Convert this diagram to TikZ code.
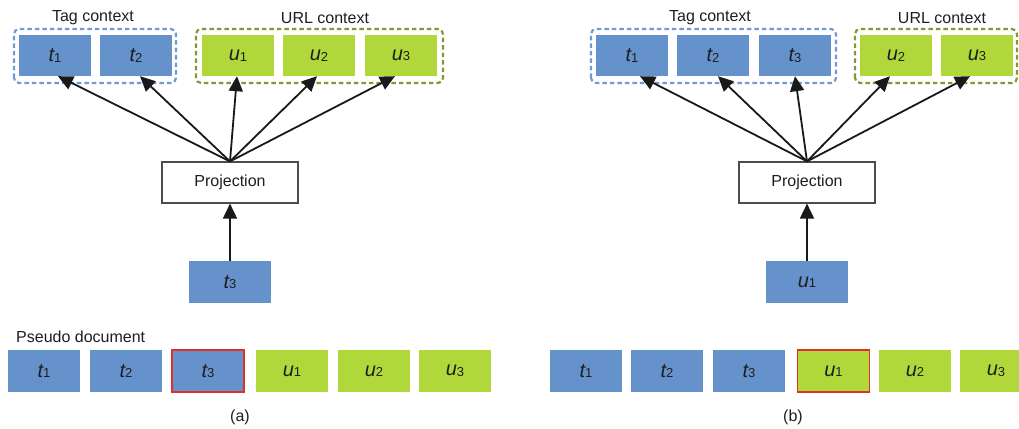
\documentclass[tikz,border=0pt]{standalone}
\usepackage{fontspec}
\setmainfont{Liberation Sans}
\usetikzlibrary{arrows.meta}
\definecolor{tblue}{RGB}{102,146,204}
\definecolor{ugreen}{RGB}{176,216,58}
\definecolor{bluedash}{RGB}{110,155,214}
\definecolor{greendash}{RGB}{128,153,51}
\definecolor{redb}{RGB}{222,50,40}
\definecolor{txt}{RGB}{30,30,30}
\newcommand{\vl}[2]{{\fontsize{20}{24}\selectfont\itshape #1}\raisebox{-0.5pt}{\fontsize{13}{15}\selectfont #2}}
\tikzset{
  box/.style={minimum width=72, minimum height=41, inner sep=0pt, text=txt},
  tb/.style={box, fill=tblue},
  ub/.style={box, fill=ugreen},
  hl/.style={draw=redb, line width=1.8pt},
  grp/.style={dash pattern=on 4.5pt off 3pt, line width=2.2pt, rounded corners=5pt},
  lab/.style={font=\fontsize{16}{19}\selectfont, text=txt, inner sep=0pt},
  proj/.style={draw=black!70, line width=1.2pt, minimum width=136, minimum height=41, inner sep=0pt, font=\fontsize{16}{19}\selectfont, text=txt},
  arr/.style={-{Triangle[length=15pt,width=14pt]}, line width=1.8pt, black!90}
}
\begin{document}
\begin{tikzpicture}[x=1pt,y=1pt]
\useasboundingbox (0,0) rectangle (1019,428);
\clip (0,0) rectangle (1019,428);
% ---------- (a) ----------
\node[tb] (at1) at (55,372.5) {\vl{t}{1}};
\node[tb] (at2) at (136,372.5) {\vl{t}{2}};
\node[ub] (au1) at (238,372.5) {\vl{u}{1}};
\node[ub] (au2) at (319,372.5) {\vl{u}{2}};
\node[ub] (au3) at (401,372.5) {\vl{u}{3}};
\draw[grp, bluedash] (14,345) rectangle (176,399);
\draw[grp, greendash] (196,345) rectangle (443,399);
\node[lab] (atag) at (93,410) {Tag context};
\node[lab] (aurl) at (325,410) {URL context};
\node[proj] (ap) at (230,245.5) {Projection};
\node[tb, minimum width=82, minimum height=42] (ain) at (230,146) {\vl{t}{3}};
\draw[arr] (ain.north) -- (ap.south);
\draw[arr] (ap.north) -- ([xshift=3pt]at1.south);
\draw[arr] (ap.north) -- ([xshift=4pt]at2.south);
\draw[arr] (ap.north) -- ([xshift=-1pt]au1.south);
\draw[arr] (ap.north) -- ([xshift=-2pt]au2.south);
\draw[arr] (ap.north) -- ([xshift=-6pt]au3.south);
\node[lab, anchor=west] (apd) at (16,91) {Pseudo document};
\node[tb, minimum height=42] (ad1) at (44,57) {\vl{t}{1}};
\node[tb, minimum height=42] (ad2) at (126,57) {\vl{t}{2}};
\node[tb, hl, minimum height=42] (ad3) at (208,57) {\vl{t}{3}};
\node[ub, minimum height=42] (ad4) at (292,57) {\vl{u}{1}};
\node[ub, minimum height=42] (ad5) at (374,57) {\vl{u}{2}};
\node[ub, minimum height=42] (ad6) at (455,57) {\vl{u}{3}};
\node[lab] (acap) at (240,11) {(a)};
% ---------- (b) ----------
\node[tb] (bt1) at (632,372.5) {\vl{t}{1}};
\node[tb] (bt2) at (713,372.5) {\vl{t}{2}};
\node[tb] (bt3) at (795,372.5) {\vl{t}{3}};
\node[ub] (bu2) at (896,372.5) {\vl{u}{2}};
\node[ub] (bu3) at (977,372.5) {\vl{u}{3}};
\draw[grp, bluedash] (591,345) rectangle (836,399);
\draw[grp, greendash] (855,345) rectangle (1017,399);
\node[lab] (btag) at (710,410) {Tag context};
\node[lab] (burl) at (942,410) {URL context};
\node[proj] (bp) at (807,245.5) {Projection};
\node[tb, minimum width=82, minimum height=42] (bin) at (807,146) {\vl{u}{1}};
\draw[arr] (bin.north) -- (bp.south);
\draw[arr] (bp.north) -- ([xshift=8pt]bt1.south);
\draw[arr] (bp.north) -- ([xshift=5pt]bt2.south);
\draw[arr] (bp.north) -- (bt3.south);
\draw[arr] (bp.north) -- ([xshift=-6pt]bu2.south);
\draw[arr] (bp.north) -- ([xshift=-7pt]bu3.south);
\node[tb, minimum height=42] (bd1) at (586,57) {\vl{t}{1}};
\node[tb, minimum height=42] (bd2) at (667,57) {\vl{t}{2}};
\node[tb, minimum height=42] (bd3) at (749,57) {\vl{t}{3}};
\node[ub, hl, minimum height=42] (bd4) at (833.5,57) {\vl{u}{1}};
\node[ub, minimum height=42] (bd5) at (915,57) {\vl{u}{2}};
\node[ub, minimum height=42] (bd6) at (996,57) {\vl{u}{3}};
\node[lab] (bcap) at (793,11) {(b)};
\end{tikzpicture}
\end{document}
